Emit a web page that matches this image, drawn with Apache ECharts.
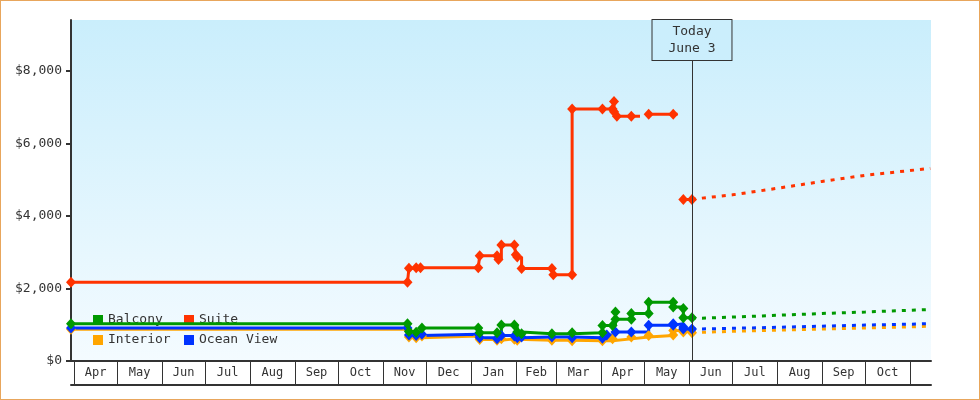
<!DOCTYPE html>
<html>
<head>
<meta charset="utf-8">
<title>Cabin price history</title>
<script src="https://cdn.jsdelivr.net/npm/echarts@6.0.0/dist/echarts.min.js"></script>
<style>
  html, body { margin: 0; padding: 0; background: #fff; }
  #chart { width: 978px; height: 398px; border: 1px solid #e8a65c; }
</style>
</head>
<body>
<div id="chart"></div>
<script>
// price observations, [date, price]; '-' = no fare listed
const balcony = [
  ['2022-03-30', 1030], ['2022-11-18', 1030], ['2022-11-19', 810], ['2022-11-24', 790],
  ['2022-11-28', 910], ['2023-01-06', 910], ['2023-01-07', 780], ['2023-01-19', 780],
  ['2023-01-22', 990], ['2023-01-31', 990], ['2023-02-02', 800], ['2023-02-05', 750],
  ['2023-02-26', 750], ['2023-03-12', 780], ['2023-04-02', 780], ['2023-04-02', 980],
  ['2023-04-09', 980], ['2023-04-11', 1350], ['2023-04-11', 1150], ['2023-04-22', 1150],
  ['2023-04-22', 1310], ['2023-05-04', 1310], ['2023-05-04', 1620], ['2023-05-21', 1620],
  ['2023-05-21', 1490], ['2023-05-28', 1450], ['2023-05-28', 1190], ['2023-06-03', 1190]
];
const suite = [
  ['2022-03-30', 2170], ['2022-11-18', 2170], ['2022-11-19', 2560], ['2022-11-24', 2570],
  ['2022-11-27', 2570], ['2023-01-06', 2570], ['2023-01-07', 2900], ['2023-01-19', 2900],
  ['2023-01-20', 2800], ['2023-01-22', 3200], ['2023-01-31', 3200], ['2023-02-01', 2930],
  ['2023-02-02', 2870], ['2023-02-05', 2550], ['2023-02-26', 2550], ['2023-02-27', 2380],
  ['2023-03-12', 2380], ['2023-03-12', 6950], ['2023-04-02', 6950], ['2023-04-09', 6950],
  ['2023-04-10', 7150], ['2023-04-10', 6870], ['2023-04-12', 6750], ['2023-04-22', 6750],
  ['2023-04-28', '-'], ['2023-05-04', 6800], ['2023-05-21', 6800], ['2023-05-24', '-'],
  ['2023-05-28', 4450], ['2023-06-03', 4450]
];
const interior = [
  ['2022-03-30', 875], ['2022-11-18', 875], ['2022-11-19', 660], ['2022-11-24', 640],
  ['2022-11-28', 690], ['2023-01-06', 690], ['2023-01-07', 590], ['2023-01-19', 570],
  ['2023-01-22', 610], ['2023-01-31', 600], ['2023-02-02', 575], ['2023-02-26', 575],
  ['2023-03-12', 560], ['2023-04-02', 560], ['2023-04-09', 610], ['2023-04-22', 660],
  ['2023-05-04', 700], ['2023-05-21', 720], ['2023-05-21', 840], ['2023-05-28', 800],
  ['2023-06-03', 780]
];
const oceanView = [
  ['2022-03-30', 910], ['2022-11-18', 910], ['2022-11-19', 720], ['2022-11-24', 700],
  ['2022-11-28', 735], ['2023-01-06', 735], ['2023-01-07', 640], ['2023-01-19', 610],
  ['2023-01-22', 700], ['2023-01-31', 690], ['2023-02-02', 640], ['2023-02-05', 660],
  ['2023-02-26', 660], ['2023-03-12', 640], ['2023-04-02', 630], ['2023-04-05', 720],
  ['2023-04-11', 800], ['2023-04-22', 800], ['2023-05-04', 985], ['2023-05-21', 985],
  ['2023-05-21', 1030], ['2023-05-28', 940], ['2023-05-28', 880], ['2023-06-03', 880]
];

// projected prices after today
const balconyForecast = [
  ['2023-06-03', 1190], ['2023-06-10', 1180], ['2023-07-01', 1210], ['2023-08-01', 1260],
  ['2023-09-01', 1310], ['2023-10-01', 1350], ['2023-11-01', 1400], ['2023-11-15', 1420]
];
const suiteForecast = [
  ['2023-06-03', 4450], ['2023-06-10', 4490], ['2023-07-01', 4580], ['2023-08-01', 4760],
  ['2023-09-01', 4950], ['2023-10-01', 5120], ['2023-11-01', 5250], ['2023-11-15', 5310]
];
const interiorForecast = [
  ['2023-06-03', 780], ['2023-06-10', 790], ['2023-07-01', 820], ['2023-08-01', 850],
  ['2023-09-01', 880], ['2023-10-01', 910], ['2023-11-01', 940], ['2023-11-15', 960]
];
const oceanViewForecast = [
  ['2023-06-03', 880], ['2023-07-01', 900], ['2023-08-01', 930], ['2023-09-01', 960],
  ['2023-10-01', 990], ['2023-11-01', 1015], ['2023-11-15', 1030]
];

const monthStarts = [
  '2022-04-01', '2022-05-01', '2022-06-01', '2022-07-01', '2022-08-01', '2022-09-01',
  '2022-10-01', '2022-11-01', '2022-12-01', '2023-01-01', '2023-02-01', '2023-03-01',
  '2023-04-01', '2023-05-01', '2023-06-01', '2023-07-01', '2023-08-01', '2023-09-01',
  '2023-10-01', '2023-11-01'
];
const monthLabels = [
  'Apr', 'May', 'Jun', 'Jul', 'Aug', 'Sep', 'Oct', 'Nov', 'Dec', 'Jan',
  'Feb', 'Mar', 'Apr', 'May', 'Jun', 'Jul', 'Aug', 'Sep', 'Oct'
];
const yTicks = [0, 2000, 4000, 6000, 8000];
const today = '2023-06-03';
const todayLabel = ['Today', 'June 3'];

// dates become plain day numbers counted from the first observation
const DAY = 24 * 3600 * 1000;
const ts = (s) => {
  const [y, m, d] = s.split('-').map(Number);
  return Math.round((Date.UTC(y, m - 1, d) - Date.UTC(2022, 2, 30)) / DAY);
};
const toData = (arr) => arr.map(([d, v]) => [ts(d), v]);

const xMin = ts('2022-03-30');
const xMax = ts('2023-11-15') + 0.5;
const tickPos = monthStarts.map(ts);
const labelPos = tickPos.slice(0, -1).map((t, i) => (t + tickPos[i + 1]) / 2);

const FONT = 'DejaVu Sans Mono';
const TXT = '#333';
const colors = {
  'Balcony': '#009900',
  'Suite': '#ff3300',
  'Interior': '#ffa500',
  'Ocean View': '#0033ff'
};

const solid = (name, data) => ({
  name,
  type: 'line',
  step: 'end',
  data: toData(data),
  symbol: 'diamond',
  symbolSize: [10, 11],
  showAllSymbol: true,
  connectNulls: false,
  itemStyle: { color: colors[name] },
  lineStyle: { color: colors[name], width: 3 },
  z: 3
});
const dotted = (name, data) => ({
  name,
  type: 'line',
  data: toData(data),
  showSymbol: false,
  itemStyle: { color: colors[name] },
  lineStyle: { color: colors[name], width: 3, type: [4, 6] },
  z: 2
});

const chart = echarts.init(document.getElementById('chart'), null, { renderer: 'canvas' });

const todaySeries = dotted('Suite', suiteForecast);
todaySeries.markLine = {
  silent: true,
  symbol: ['none', 'none'],
  animation: false,
  lineStyle: { color: TXT, width: 1, type: 'solid' },
  label: {
    show: true,
    position: 'end',
    distance: -40,
    formatter: todayLabel.join('\n'),
    fontFamily: FONT,
    fontSize: 13,
    lineHeight: 17,
    color: TXT,
    align: 'center',
    backgroundColor: '#cbeefc',
    borderColor: TXT,
    borderWidth: 1,
    padding: [3, 16, 3, 16]
  },
  data: [{ xAxis: ts(today) }]
};

const option = {
  animation: false,
  grid: {
    left: 70,
    right: 48,
    top: 19,
    bottom: 38,
    containLabel: false,
    outerBoundsMode: 'none',
    show: true,
    borderWidth: 0,
    backgroundColor: new echarts.graphic.LinearGradient(0, 0, 0, 1, [
      { offset: 0, color: '#caeefc' },
      { offset: 1, color: '#f4fbff' }
    ])
  },
  legend: {
    data: ['Balcony', 'Suite', 'Interior', 'Ocean View'],
    left: 92,
    top: 311,
    width: 200,
    z: 1,
    icon: 'rect',
    itemWidth: 10,
    itemHeight: 10,
    itemGap: 4,
    padding: 0,
    selectedMode: false,
    textStyle: { fontFamily: FONT, fontSize: 13, color: TXT, width: 72, lineHeight: 16 }
  },
  xAxis: [
    {
      type: 'value',
      min: xMin,
      max: xMax,
      axisLine: { show: true, onZero: false, lineStyle: { color: TXT, width: 2 } },
      axisTick: {
        show: true,
        inside: false,
        length: 24,
        customValues: tickPos,
        lineStyle: { color: TXT, width: 1 }
      },
      axisLabel: {
        show: true,
        customValues: labelPos,
        margin: 6,
        fontFamily: FONT,
        fontSize: 12,
        color: TXT,
        formatter: (v) => {
          const i = labelPos.findIndex((p) => Math.abs(p - v) < 0.01);
          return i >= 0 ? monthLabels[i] : '';
        }
      },
      splitLine: { show: false }
    },
    {
      type: 'value',
      min: xMin,
      max: xMax,
      position: 'bottom',
      offset: 24,
      axisLine: { show: true, onZero: false, lineStyle: { color: TXT, width: 2 } },
      axisTick: { show: false },
      axisLabel: { show: false },
      splitLine: { show: false }
    }
  ],
  yAxis: {
    type: 'value',
    min: 0,
    max: 9400,
    axisLine: { show: true, lineStyle: { color: TXT, width: 2 } },
    axisTick: { show: true, length: 5, customValues: yTicks, lineStyle: { color: TXT, width: 2 } },
    axisLabel: {
      customValues: yTicks,
      margin: 9,
      fontFamily: FONT,
      fontSize: 13,
      color: TXT,
      formatter: (v) => '$' + String(v).replace(/\B(?=(\d{3})+(?!\d))/g, ',')
    },
    splitLine: { show: false }
  },
  series: [
    dotted('Interior', interiorForecast),
    dotted('Ocean View', oceanViewForecast),
    dotted('Balcony', balconyForecast),
    todaySeries,
    solid('Interior', interior),
    solid('Ocean View', oceanView),
    solid('Balcony', balcony),
    solid('Suite', suite)
  ]
};

chart.setOption(option);
</script>
</body>
</html>
